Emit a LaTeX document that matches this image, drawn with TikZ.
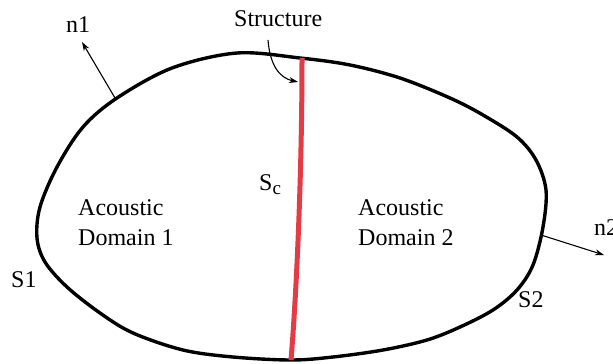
\documentclass[tikz,border=0pt]{standalone}
\usepackage{fontspec}
\setmainfont{Liberation Serif}
\usetikzlibrary{arrows.meta}
\definecolor{strred}{RGB}{228,60,68}
\tikzset{
  lbl/.style={inner sep=0pt, font=\fontsize{24}{30}\selectfont},
  thinarrow/.style={line width=1.1pt, -{Stealth[length=9pt,width=6pt]}},
}
\begin{document}
\begin{tikzpicture}[x=1pt,y=-1pt]
\useasboundingbox (0,0) rectangle (613,364);
% outline
\draw[line width=3.4pt] plot[smooth cycle, tension=0.55] coordinates {
 (237,53) (300,58) (350,65) (400,78) (450,98) (483,115) (517,137)
 (536,160) (546,190) (543,227) (533,265) (517,290) (493,310) (460,327)
 (427,340) (383,350) (333,357) (291,360) (233,357) (183,350) (133,333)
 (100,313) (67,287) (45,262) (37,238) (40,207) (57,167) (83,127)
 (117,98) (172,68)};
% structure
\coordinate (st) at (302,58);
\coordinate (sb) at (291,360);
\draw[strred, line width=5pt] (st) .. controls (302,180) and (296,300) .. (sb);
% normals
\coordinate (n1s) at (115,98);
\coordinate (n1e) at (82,42);
\draw[thinarrow] (n1s) -- (n1e);
\coordinate (n2s) at (541,235);
\coordinate (n2e) at (604,255);
\draw[thinarrow] (n2s) -- (n2e);
% labels
\node[lbl, anchor=base west] (n1) at (66,32) {n1};
\node[lbl, anchor=base west] (n2) at (594,235) {n2};
\node[lbl, anchor=base west] (S1) at (11,287) {S1};
\node[lbl, anchor=base west] (S2) at (518,307) {S2};
\node[lbl, anchor=base west] (struct) at (234,27) {Structure};
\node[lbl, anchor=base west] (sc) at (259,190) {S\raisebox{-4pt}{\fontsize{19}{19}\selectfont c}};
\node[lbl, anchor=base west] (ad1a) at (78,215) {Acoustic};
\node[lbl, anchor=base west] (ad1b) at (78,245) {Domain 1};
\node[lbl, anchor=base west] (ad2a) at (358,215) {Acoustic};
\node[lbl, anchor=base west] (ad2b) at (358,245) {Domain 2};
\coordinate (sa) at (268,40);
\coordinate (se) at (298,82);
\draw[thinarrow] (sa) .. controls (270,66) and (280,78) .. (se);
\end{tikzpicture}
\end{document}
